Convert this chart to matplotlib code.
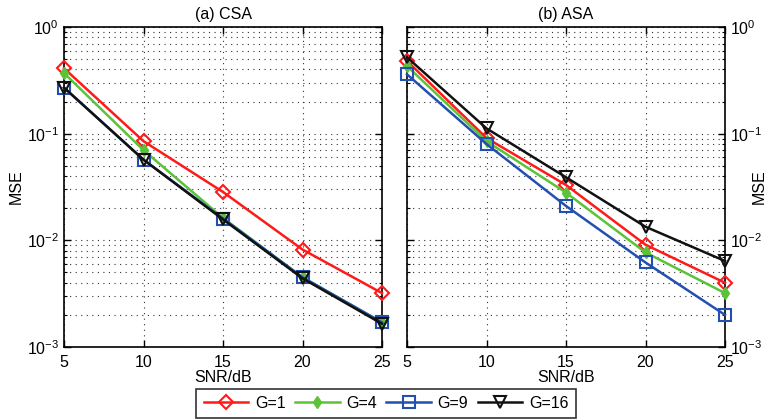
import matplotlib
matplotlib.use("Agg")
import matplotlib.pyplot as plt
from matplotlib.ticker import LogLocator, NullFormatter, FixedLocator

plt.rcParams['font.family'] = ['Liberation Sans', 'DejaVu Sans']
plt.rcParams['mathtext.fontset'] = 'custom'
plt.rcParams['mathtext.rm'] = 'Liberation Sans'

snr = [5, 10, 15, 20, 25]
labels = ["G=1", "G=4", "G=9", "G=16"]
titles = ["(a) CSA", "(b) ASA"]

csa_g1 = [0.41, 0.085, 0.0284, 0.0082, 0.0032]
csa_g4 = [0.37, 0.070, 0.0162, 0.0045, 0.0017]
csa_g9 = [0.27, 0.057, 0.0160, 0.0045, 0.0017]
csa_g16 = [0.27, 0.057, 0.0157, 0.0044, 0.00165]

asa_g1 = [0.48, 0.091, 0.033, 0.0091, 0.0040]
asa_g4 = [0.43, 0.085, 0.028, 0.0077, 0.0032]
asa_g9 = [0.36, 0.080, 0.021, 0.0062, 0.0020]
asa_g16 = [0.52, 0.112, 0.039, 0.0134, 0.0064]

colors = ["#ff1a1a", "#5cc23a", "#2250b0", "#111111"]
styles = [
    dict(marker='D', markersize=7, markerfacecolor='none', markeredgewidth=1.5),
    dict(marker='d', markersize=6, markeredgewidth=1.0),
    dict(marker='s', markersize=8, markerfacecolor='none', markeredgewidth=1.5),
    dict(marker='v', markersize=9, markerfacecolor='none', markeredgewidth=1.5),
]

fig = plt.figure(figsize=(7.70, 4.19), dpi=100)
ax1 = fig.add_axes([64/770, 1-347/419, 318/770, 320/419])
ax2 = fig.add_axes([407/770, 1-347/419, 318/770, 320/419])

data = [[csa_g1, csa_g4, csa_g9, csa_g16], [asa_g1, asa_g4, asa_g9, asa_g16]]
handles = []
for ax, series, title in zip([ax1, ax2], data, titles):
    for i, (vals, c, st) in enumerate(zip(series, colors, styles)):
        kw = dict(st)
        if kw.get('markerfacecolor') != 'none':
            kw['markerfacecolor'] = c
        h, = ax.semilogy(snr, vals, color=c, lw=1.8, markeredgecolor=c,
                         label=labels[i], clip_on=False, zorder=3, **kw)
        if ax is ax1:
            handles.append(h)
    ax.set_xlim(5, 25)
    ax.set_ylim(1e-3, 1)
    ax.set_xticks(snr)
    ax.yaxis.set_major_locator(FixedLocator([1e-3, 1e-2, 1e-1, 1]))
    ax.yaxis.set_minor_locator(LogLocator(base=10, subs=range(2, 10)))
    ax.yaxis.set_minor_formatter(NullFormatter())
    ax.grid(True, which='major', axis='both', linestyle=(0, (1, 4)), color='#333333', lw=0.8)
    ax.grid(True, which='minor', axis='y', linestyle=(0, (1, 4)), color='#333333', lw=0.8)
    ax.tick_params(which='both', direction='in', top=True, right=True, left=True, labelsize=11.5)
    ax.tick_params(axis='x', pad=6)
    ax.tick_params(which='major', length=5, width=1)
    ax.tick_params(which='minor', length=2.5, width=0.8)
    for sp in ax.spines.values():
        sp.set_linewidth(1.2)
    ax.set_title(title, fontsize=11.5, pad=6)
    ax.set_xlabel("SNR/dB", fontsize=11.5, labelpad=0)

ax1.set_ylabel("MSE", fontsize=11.5)
ax1.yaxis.set_label_coords(-0.125, 0.5)
ax2.yaxis.set_label_position('right')
ax2.yaxis.tick_right()
ax2.tick_params(which='both', left=True, right=True, labelleft=False, labelright=True)
ax2.set_ylabel("MSE", fontsize=11.5)
ax2.yaxis.set_label_coords(1.085, 0.5)

leg = fig.legend(handles=handles, labels=labels, loc='lower center', ncol=4,
                 bbox_to_anchor=(386/770, 0.0), fontsize=11.5, frameon=True, fancybox=False,
                 edgecolor='black', handlelength=2.8, columnspacing=0.6, borderpad=0.45,
                 handletextpad=0.4, borderaxespad=0.05)
leg.get_frame().set_linewidth(1.2)

fig.savefig("out.png", dpi=100)
